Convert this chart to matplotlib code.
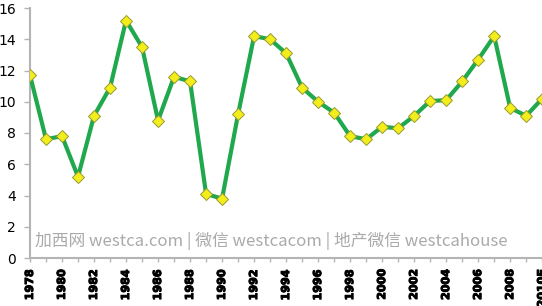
import numpy as np
import matplotlib
matplotlib.use('Agg')
import matplotlib.pyplot as plt
import matplotlib.patheffects as pe

# values
years = list(range(1978, 2011))
values = [11.7, 7.6, 7.8, 5.2, 9.1, 10.9, 15.2, 13.5, 8.8, 11.6,
          11.3, 4.1, 3.8, 9.2, 14.2, 14.0, 13.1, 10.9, 10.0, 9.3,
          7.8, 7.6, 8.4, 8.3, 9.1, 10.05, 10.1, 11.3, 12.7, 14.2,
          9.6, 9.1, 10.2]
label_years = list(range(1978, 2011, 2))
label_text = [str(y) for y in label_years[:-1]] + ['2010E']
yticks = [0, 2, 4, 6, 8, 10, 12, 14, 16]

watermark = '加西网 westca.com | 微信 westcacom | 地产微信 westcahouse'

fig = plt.figure(figsize=(5.42, 3.06), dpi=100)
ax = fig.add_axes([30/542, 48/306, 513/542, 250/306])

ax.plot(years, values, color='#1fa84c', lw=3.0, marker='D', markersize=6.5,
        markerfacecolor='#f2ee1c', markeredgecolor='#9a9a30', markeredgewidth=0.7,
        solid_joinstyle='round', zorder=3)

ax.set_xlim(1978, 2010.05)
ax.set_ylim(0, 16)
ax.set_yticks(yticks)
ax.set_yticklabels([str(v) for v in yticks], fontsize=8, fontweight='bold')
ax.set_xticks(years, minor=True)
ax.set_xticks(label_years)
ax.set_xticklabels(label_text, rotation=90, fontsize=8, fontweight='bold')

bold = [pe.withStroke(linewidth=0.7, foreground='black')]
for t in ax.get_xticklabels() + ax.get_yticklabels():
    t.set_path_effects(bold)

for s in ['top', 'right']:
    ax.spines[s].set_visible(False)
for s in ['left', 'bottom']:
    ax.spines[s].set_color('#b4b4b4')
    ax.spines[s].set_linewidth(1.5)
ax.spines['left'].set_position(('data', 1978))
ax.tick_params(axis='y', colors='#b4b4b4', length=4, width=1, labelcolor='black', pad=6)
ax.tick_params(axis='x', which='both', colors='#b4b4b4', length=3, width=1,
               labelcolor='black', pad=5)
ax.patch.set_visible(False)

fig.text(35/542, 1 - 241/306, watermark, fontsize=12.1, color='#aaaaaa',
         family=['Noto Sans CJK SC', 'DejaVu Sans'], va='center', ha='left')

fig.savefig('out.png', dpi=100)
